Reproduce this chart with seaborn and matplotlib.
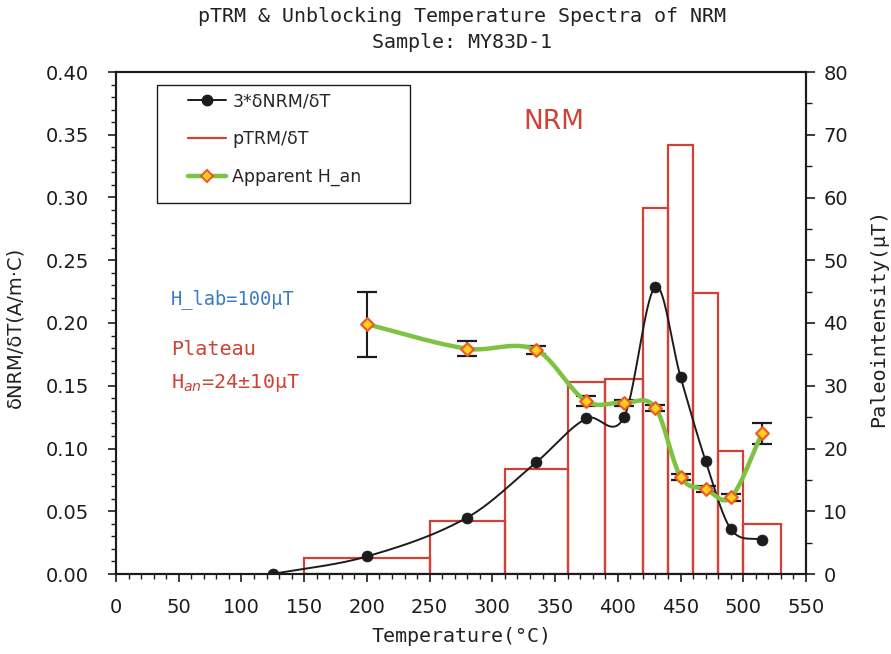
import numpy as np
import matplotlib
matplotlib.use("Agg")
import matplotlib.pyplot as plt
from matplotlib.lines import Line2D
from matplotlib.patches import Rectangle
from matplotlib.ticker import MultipleLocator, FormatStrFormatter
import seaborn as sns

# ---------------- data ----------------
T_nrm = [125, 200, 280, 335, 375, 405, 430, 450, 470, 490, 515]
nrm3 = [0.000, 0.014, 0.045, 0.089, 0.124, 0.125, 0.229, 0.157, 0.090, 0.036, 0.027]

bin_edges = [150, 250, 310, 360, 390, 420, 440, 460, 480, 500, 530]
ptrm = [0.0125, 0.042, 0.084, 0.153, 0.155, 0.292, 0.342, 0.224, 0.098, 0.040]

T_han = [200, 280, 335, 375, 405, 430, 450, 470, 490, 515]
han = [39.8, 35.9, 35.7, 27.5, 27.3, 26.5, 15.5, 13.5, 12.2, 22.4]
han_err = [5.2, 1.2, 0.7, 0.8, 0.5, 0.5, 0.5, 0.5, 0.5, 1.7]

x_ticks = [0, 50, 100, 150, 200, 250, 300, 350, 400, 450, 500, 550]

# ---------------- helpers ----------------
def smooth_curve(x, y, n_per=40):
    """Cardinal (Catmull-Rom style) Hermite curve through the data points."""
    x = np.asarray(x, float)
    y = np.asarray(y, float)
    k = len(x)
    m = np.zeros(k)
    m[0] = (y[1] - y[0]) / (x[1] - x[0])
    m[-1] = (y[-1] - y[-2]) / (x[-1] - x[-2])
    for i in range(1, k - 1):
        m[i] = (y[i + 1] - y[i - 1]) / (x[i + 1] - x[i - 1])
    xs_all, ys_all = [], []
    for i in range(k - 1):
        h = x[i + 1] - x[i]
        t = np.linspace(0, 1, n_per, endpoint=(i == k - 2))
        h00 = 2 * t ** 3 - 3 * t ** 2 + 1
        h10 = t ** 3 - 2 * t ** 2 + t
        h01 = -2 * t ** 3 + 3 * t ** 2
        h11 = t ** 3 - t ** 2
        xs_all.append(x[i] + t * h)
        ys_all.append(h00 * y[i] + h10 * h * m[i] + h01 * y[i + 1] + h11 * h * m[i + 1])
    return np.concatenate(xs_all), np.concatenate(ys_all)

# ---------------- style ----------------
sns.set_style("ticks")
plt.rcParams["font.family"] = ["DejaVu Sans"]
MONO = ["DejaVu Sans Mono"]
RED = "#cf4236"
GREEN = "#7dc241"
BLACK = "#1c1c1c"
BLUE = "#3b7bc4"

W, H = 891, 654
fig = plt.figure(figsize=(W / 100, H / 100), dpi=100)
L, R, B, T = 116, 806, 574, 72
ax = fig.add_axes([L / W, 1 - B / H, (R - L) / W, (B - T) / H])
ax2 = ax.twinx()

# bars (pTRM/dT)
centers = [(bin_edges[i] + bin_edges[i + 1]) / 2 for i in range(len(ptrm))]
sns.histplot(x=centers, weights=ptrm, bins=bin_edges, fill=False,
             element="bars", color=RED, linewidth=1.6, ax=ax, legend=False,
             zorder=1)

# NRM curve
xs, ys = smooth_curve(T_nrm, nrm3)
sns.lineplot(x=xs, y=ys, ax=ax, color=BLACK, linewidth=1.4, sort=False,
             estimator=None, zorder=3)
sns.scatterplot(x=T_nrm, y=nrm3, ax=ax, color=BLACK, s=62, edgecolor=BLACK,
                linewidth=0.5, zorder=4)

# Apparent H_an
ax2.errorbar(T_han, han, yerr=han_err, fmt="none", ecolor=BLACK,
             elinewidth=1.5, capsize=7, capthick=1.6, zorder=3)
hx, hy = smooth_curve(T_han, han)
sns.lineplot(x=hx, y=hy, ax=ax2, color=GREEN, linewidth=3.2, sort=False,
             estimator=None, zorder=4)
sns.scatterplot(x=T_han, y=han, ax=ax2, marker="D", s=42, color="#ffd21a",
                edgecolor="#ef5a2a", linewidth=1.6, zorder=5)

# axes limits & ticks
ax.set_xlim(0, 550)
ax.set_ylim(0, 0.40)
ax2.set_ylim(0, 80)
ax.set_xticks(x_ticks)
ax.xaxis.set_minor_locator(MultipleLocator(10))
ax.yaxis.set_major_locator(MultipleLocator(0.05))
ax.yaxis.set_minor_locator(MultipleLocator(0.01))
ax.yaxis.set_major_formatter(FormatStrFormatter("%.2f"))
ax2.yaxis.set_major_locator(MultipleLocator(10))
ax2.yaxis.set_minor_locator(MultipleLocator(5))

ax.set_xlabel("")
ax.set_ylabel("")
ax2.set_ylabel("")

for a in (ax, ax2):
    for s in a.spines.values():
        s.set_linewidth(1.5)
        s.set_color(BLACK)
        s.set_visible(True)
ax.tick_params(axis="x", which="major", direction="out", length=5.5, width=1.2,
               labelsize=14, pad=12, colors=BLACK)
ax.tick_params(axis="x", which="minor", direction="out", length=3.5, width=1.0,
               colors=BLACK)
ax.tick_params(axis="y", which="major", direction="out", length=5.5, width=1.2,
               labelsize=14, pad=14, colors=BLACK)
ax.tick_params(axis="y", which="minor", direction="out", length=3.5, width=1.0,
               colors=BLACK)
ax2.tick_params(axis="y", which="major", direction="out", length=6.5, width=1.2,
                labelsize=14, pad=6, colors=BLACK)
ax2.tick_params(axis="y", which="minor", direction="out", length=4.5, width=1.0,
                colors=BLACK)

# titles & labels
fig.text(462 / W, 1 - 17 / H, "pTRM & Unblocking Temperature Spectra of NRM",
         ha="center", va="center", fontsize=14.4, family=MONO, color="#222")
fig.text(462 / W, 1 - 42 / H, "Sample: MY83D-1",
         ha="center", va="center", fontsize=14.4, family=MONO, color="#222")
fig.text(462 / W, 1 - 637 / H, "Temperature(\u00b0C)", ha="center",
         va="center", fontsize=14.4, family=MONO, color="#222")
fig.text(15 / W, 1 - 327 / H, "\u03b4NRM/\u03b4T(A/m\u00b7C)", rotation=90,
         ha="center", va="center", fontsize=14, color="#222")
fig.text(879 / W, 1 - 318 / H, "Paleointensity(\u03bcT)", rotation=90,
         ha="center", va="center", fontsize=14.5, family=MONO, color="#222")

# annotations
ax.text(349, 0.360, "NRM", ha="center", va="center", fontsize=19,
        family=["DejaVu Sans"], color=RED)
ax.text(44, 0.219, "H_lab=100\u03bcT", ha="left", va="center", fontsize=13.5,
        family=MONO, color=BLUE)
ax.text(44, 0.1785, "Plateau", ha="left", va="center", fontsize=14.5,
        family=MONO, color=RED)
ax.text(44, 0.152, "H$_{an}$=24\u00b110\u03bcT", ha="left", va="center",
        fontsize=14.5, family=MONO, color=RED)

# legend
handles = [
    Line2D([], [], color=BLACK, lw=1.4, marker="o", markersize=7.5,
           markerfacecolor=BLACK, markeredgecolor=BLACK),
    Line2D([], [], color=RED, lw=1.6),
    Line2D([], [], color=GREEN, lw=3.2, marker="D", markersize=6,
           markerfacecolor="#ffd21a", markeredgecolor="#ef5a2a",
           markeredgewidth=1.5),
]
labels = ["3*\u03b4NRM/\u03b4T", "pTRM/\u03b4T", "Apparent H_an"]
leg = ax2.legend(handles, labels, loc="upper left",
                 bbox_to_anchor=(188 / W, 1 - 92 / H),
                 bbox_transform=fig.transFigure, frameon=False,
                 fontsize=12.5, handlelength=2.2, handletextpad=0.35,
                 labelspacing=1.15, borderpad=0, borderaxespad=0)
fig.patches.append(Rectangle((157 / W, 1 - 203 / H), (410 - 157) / W,
                             (203 - 85) / H, transform=fig.transFigure,
                             fill=False, edgecolor=BLACK, linewidth=1.0,
                             zorder=10))

fig.savefig("out.png", dpi=100, facecolor="white")
